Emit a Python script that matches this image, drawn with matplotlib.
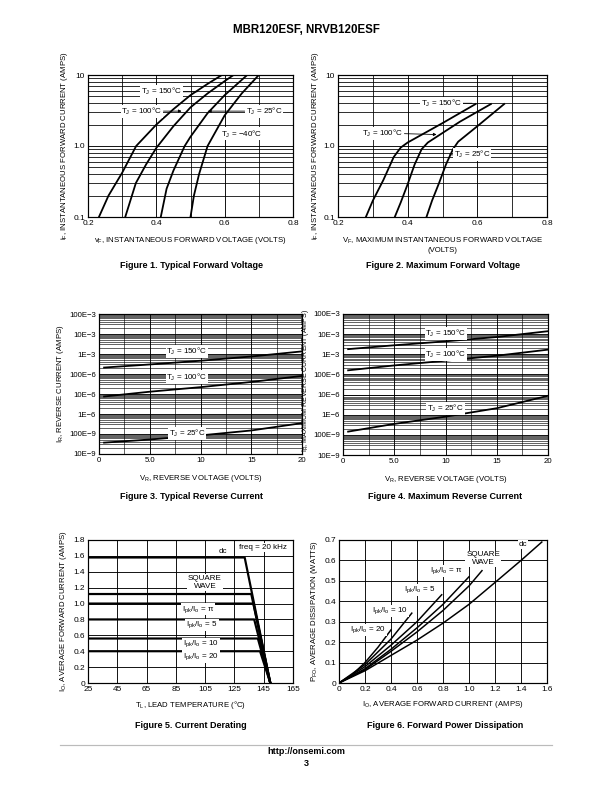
import matplotlib
matplotlib.use("Agg")
import matplotlib.pyplot as plt
from matplotlib.ticker import NullFormatter, LogLocator, FixedLocator
import numpy as np

plt.rcParams['font.family'] = ['Liberation Sans', 'DejaVu Sans']
plt.rcParams['mathtext.fontset'] = 'custom'
plt.rcParams['mathtext.rm'] = 'Liberation Sans'
plt.rcParams['mathtext.it'] = 'Liberation Sans:italic'

# ---------------- DATA ----------------
# Figure 1: typical forward voltage (V, A)
f1_150_v = [0.232, 0.26, 0.30, 0.341, 0.40, 0.45, 0.50, 0.55, 0.592]
f1_150_i = [0.1, 0.2, 0.42, 1.0, 2.0, 3.3, 5.2, 7.5, 10]
f1_100_v = [0.309, 0.34, 0.37, 0.40, 0.45, 0.50, 0.55, 0.60, 0.626]
f1_100_i = [0.1, 0.3, 0.55, 0.94, 1.9, 3.5, 5.5, 8.2, 10]
f1_25_v = [0.413, 0.43, 0.45, 0.483, 0.50, 0.55, 0.60, 0.666]
f1_25_i = [0.1, 0.25, 0.45, 1.0, 1.35, 2.9, 5.2, 10]
f1_m40_v = [0.50, 0.51, 0.525, 0.55, 0.60, 0.65, 0.70]
f1_m40_i = [0.1, 0.2, 0.4, 1.0, 2.7, 5.5, 10]
f1_xticks = [0.2, 0.4, 0.6, 0.8]
f1_xgrid = [0.3, 0.5, 0.7]

# Figure 2: maximum forward voltage
f2_150_v = [0.28, 0.30, 0.33, 0.36, 0.38, 0.40, 0.50, 0.595]
f2_150_i = [0.1, 0.17, 0.33, 0.7, 0.95, 1.12, 2.1, 3.9]
f2_100_v = [0.363, 0.38, 0.40, 0.42, 0.44, 0.458, 0.55, 0.639]
f2_100_i = [0.1, 0.16, 0.29, 0.55, 0.9, 1.12, 2.2, 3.9]
f2_25_v = [0.454, 0.47, 0.49, 0.51, 0.53, 0.545, 0.60, 0.677]
f2_25_i = [0.1, 0.17, 0.3, 0.55, 0.9, 1.15, 1.9, 3.9]

# Figure 3: typical reverse current (V, A)
vr = [0.5, 5, 10, 15, 20]
f3_150 = [2.1e-4, 3.0e-4, 4.6e-4, 7.5e-4, 1.35e-3]
f3_100 = [7.5e-6, 1.3e-5, 2.2e-5, 4.0e-5, 8.0e-5]
f3_25 = [3.7e-8, 5.3e-8, 8.5e-8, 1.5e-7, 3.5e-7]

# Figure 4: maximum reverse current
f4_150 = [1.8e-3, 2.8e-3, 4.4e-3, 7.2e-3, 1.4e-2]
f4_100 = [1.6e-4, 2.8e-4, 4.8e-4, 8.5e-4, 1.7e-3]
f4_25 = [1.45e-7, 3.5e-7, 8.0e-7, 2.1e-6, 8.7e-6]

rev_xticks = [0, 5, 10, 15, 20]
rev_xlabels = ['0', '5.0', '10', '15', '20']
rev_xgrid = [2.5, 7.5, 12.5, 17.5]
rev_ticks = [1e-8, 1e-7, 1e-6, 1e-5, 1e-4, 1e-3, 1e-2, 1e-1]
rev_labels = ['10E\u22129', '100E\u22129', '1E\u22126', '10E\u22126', '100E\u22126',
              '1E\u22123', '10E\u22123', '100E\u22123']

# Figure 5: current derating (T_L degC, I_O A)
f5_xticks = [25, 45, 65, 85, 105, 125, 145, 165]
f5_t = {
    'dc': [25, 132, 149.5],
    'sq': [25, 136.5, 149.5],
    'pi': [25, 138, 149.5],
    '5': [25, 138.5, 149.5],
    '10': [25, 141, 149.5],
    '20': [25, 142.5, 149.5],
}
f5_i = {
    'dc': [1.58, 1.58, 0],
    'sq': [1.12, 1.12, 0],
    'pi': [1.0, 1.0, 0],
    '5': [0.8, 0.8, 0],
    '10': [0.56, 0.56, 0],
    '20': [0.4, 0.4, 0],
}

# Figure 6: forward power dissipation (I_O A, P_FO W)
f6_dc_x = [0, 0.2, 0.4, 0.6, 0.8, 1.0, 1.2, 1.4, 1.56]
f6_dc_y = [0, 0.06, 0.135, 0.21, 0.293, 0.385, 0.492, 0.6, 0.69]
f6_sq_x = [0, 0.2, 0.4, 0.6, 0.8, 1.0, 1.1]
f6_sq_y = [0, 0.065, 0.155, 0.25, 0.355, 0.475, 0.55]
f6_pi_x = [0, 0.2, 0.4, 0.6, 0.8, 1.0]
f6_pi_y = [0, 0.07, 0.165, 0.27, 0.385, 0.52]
f6_5_x = [0, 0.2, 0.4, 0.6, 0.79]
f6_5_y = [0, 0.08, 0.185, 0.30, 0.432]
f6_10_x = [0, 0.2, 0.4, 0.56]
f6_10_y = [0, 0.09, 0.215, 0.342]
f6_20_x = [0, 0.1, 0.2, 0.3, 0.40]
f6_20_y = [0, 0.04, 0.1, 0.175, 0.26]

# ---------------- FIGURE ----------------
W, H = 612, 792
fig = plt.figure(figsize=(W / 72, H / 72), dpi=72)

TFS = 8.3   # tick labels
AFS = 7.7   # axis labels
LFS = 8.0   # in-plot labels


def mkax(l, r, t, b):
    return fig.add_axes([l / W, (H - b) / H, (r - l) / W, (b - t) / H])


def style(ax, minor_lw=0.8, tfs=TFS):
    for s in ax.spines.values():
        s.set_linewidth(1.2)
    ax.tick_params(which='both', length=0, labelsize=tfs, pad=3)
    ax.grid(which='major', color='black', lw=0.9, zorder=1)
    ax.grid(which='minor', color='black', lw=minor_lw, zorder=1)
    ax.set_axisbelow(True)


def lab(ax, x, y, s, **kw):
    ax.text(x, y, s, fontsize=LFS, ha='center', va='center', zorder=6,
            bbox=dict(facecolor='white', edgecolor='none', pad=1.0), **kw)


def leader(ax, s, xytext, xy, arrow=True):
    ax.annotate(s, xy=xy, xytext=xytext, fontsize=LFS, ha='center', va='center', zorder=6,
                bbox=dict(facecolor='white', edgecolor='none', pad=1.0),
                arrowprops=dict(arrowstyle='-|>' if arrow else '-', lw=0.8, color='black',
                                shrinkA=0, shrinkB=0, mutation_scale=6))


def ylab(ax, s, xpix_offset, fs=AFS, yc=0.5):
    ax.set_ylabel(s, fontsize=fs)
    w = ax.get_position().width * W
    ax.yaxis.set_label_coords(xpix_offset / w, yc)


LW = 1.8
TJ = 'T$_\\mathrm{J}$'


def fwd_axes(ax):
    ax.set_yscale('log')
    ax.set_xlim(0.2, 0.8)
    ax.set_ylim(0.1, 10)
    ax.set_xticks(f1_xticks)
    ax.set_xticklabels(['%.1f' % v for v in f1_xticks])
    ax.xaxis.set_minor_locator(FixedLocator(f1_xgrid))
    ax.set_yticks([0.1, 1, 10])
    ax.set_yticklabels(['0.1', '1.0', '10'])
    ax.yaxis.set_minor_locator(LogLocator(subs=np.arange(2, 10)))
    ax.yaxis.set_minor_formatter(NullFormatter())
    ax.xaxis.set_minor_formatter(NullFormatter())
    style(ax)


# ---- Figure 1 ----
ax1 = mkax(88, 293, 75, 217)
fwd_axes(ax1)
for v, i in [(f1_150_v, f1_150_i), (f1_100_v, f1_100_i), (f1_25_v, f1_25_i), (f1_m40_v, f1_m40_i)]:
    ax1.plot(v, i, color='black', lw=LW, zorder=4)
leader(ax1, TJ + ' = 150\u00b0C', (0.414, 5.8), (0.52, 5.8), arrow=False)
leader(ax1, TJ + ' = 100\u00b0C', (0.358, 3.1), (0.474, 3.1))
leader(ax1, TJ + ' = 25\u00b0C', (0.715, 3.1), (0.551, 3.1))
lab(ax1, 0.651, 1.48, TJ + ' = \u221240\u00b0C')
ax1.set_xlabel('v$_\\mathrm{F}$, INSTANTANEOUS FORWARD VOLTAGE (VOLTS)', fontsize=AFS)
ax1.xaxis.set_label_coords(0.5, -0.13)
ax1.xaxis.label.set_va('top')
ylab(ax1, 'i$_\\mathrm{F}$, INSTANTANEOUS FORWARD CURRENT (AMPS)', -18)

# ---- Figure 2 ----
ax2 = mkax(338, 547, 75, 217)
fwd_axes(ax2)
for v, i in [(f2_150_v, f2_150_i), (f2_100_v, f2_100_i), (f2_25_v, f2_25_i)]:
    ax2.plot(v, i, color='black', lw=LW, zorder=4)
leader(ax2, TJ + ' = 150\u00b0C', (0.496, 4.0), (0.585, 4.0), arrow=False)
leader(ax2, TJ + ' = 100\u00b0C', (0.329, 1.52), (0.483, 1.45))
leader(ax2, TJ + ' = 25\u00b0C', (0.585, 0.75), (0.52, 0.75), arrow=False)
ax2.set_xlabel('V$_\\mathrm{F}$, MAXIMUM INSTANTANEOUS FORWARD VOLTAGE\n(VOLTS)', fontsize=AFS,
               linespacing=1.3)
ax2.xaxis.set_label_coords(0.5, -0.13)
ax2.xaxis.label.set_va('top')
ylab(ax2, 'i$_\\mathrm{F}$, INSTANTANEOUS FORWARD CURRENT (AMPS)', -17)


# ---- Figure 3 & 4 ----
def rev_axes(ax):
    ax.set_yscale('log')
    ax.set_xlim(0, 20)
    ax.set_ylim(1e-8, 1e-1)
    ax.set_xticks(rev_xticks)
    ax.set_xticklabels(rev_xlabels)
    ax.xaxis.set_minor_locator(FixedLocator(rev_xgrid))
    ax.xaxis.set_minor_formatter(NullFormatter())
    ax.set_yticks(rev_ticks)
    ax.set_yticklabels(rev_labels)
    ax.yaxis.set_minor_locator(LogLocator(subs=np.arange(2, 10), numticks=20))
    ax.yaxis.set_minor_formatter(NullFormatter())
    style(ax, minor_lw=0.6, tfs=7.8)


ax3 = mkax(99, 302, 314, 454)
rev_axes(ax3)
for y in [f3_150, f3_100, f3_25]:
    ax3.plot(vr, y, color='black', lw=LW, zorder=4)
lab(ax3, 8.67, 1.4e-3, TJ + ' = 150\u00b0C')
lab(ax3, 8.67, 7.1e-5, TJ + ' = 100\u00b0C')
lab(ax3, 8.67, 1.1e-7, TJ + ' = 25\u00b0C')
ax3.set_xlabel('V$_\\mathrm{R}$, REVERSE VOLTAGE (VOLTS)', fontsize=AFS)
ax3.xaxis.set_label_coords(0.5, -0.135)
ax3.xaxis.label.set_va('top')
ylab(ax3, 'I$_\\mathrm{R}$, REVERSE CURRENT (AMPS)', -33)

ax4 = mkax(343, 548, 314, 455)
rev_axes(ax4)
for y in [f4_150, f4_100, f4_25]:
    ax4.plot(vr, y, color='black', lw=LW, zorder=4)
lab(ax4, 10.05, 1.1e-2, TJ + ' = 150\u00b0C')
lab(ax4, 10.05, 1.0e-3, TJ + ' = 100\u00b0C')
lab(ax4, 10.0, 2.1e-6, TJ + ' = 25\u00b0C')
ax4.set_xlabel('V$_\\mathrm{R}$, REVERSE VOLTAGE (VOLTS)', fontsize=AFS)
ax4.xaxis.set_label_coords(0.5, -0.135)
ax4.xaxis.label.set_va('top')
ylab(ax4, 'I$_\\mathrm{R}$, MAXIMUM REVERSE CURRENT (AMPS)', -32, fs=7.0, yc=0.53)

# ---- Figure 5 ----
ax5 = mkax(88, 293, 540, 683)
ax5.set_xlim(25, 165)
ax5.set_ylim(0, 1.8)
ax5.set_xticks(f5_xticks)
ax5.set_xticklabels([str(v) for v in f5_xticks])
yt5 = np.round(np.arange(0, 1.81, 0.2), 1)
ax5.set_yticks(yt5)
ax5.set_yticklabels(['0'] + ['%.1f' % v for v in yt5[1:]])
style(ax5)
for k in f5_t:
    ax5.plot(f5_t[k], f5_i[k], color='black', lw=2.2, zorder=4)
ipk = 'I$_\\mathrm{pk}$/I$_\\mathrm{o}$'
lab(ax5, 117.2, 1.66, 'dc')
lab(ax5, 144.5, 1.70, 'freq = 20 kHz')
lab(ax5, 104.9, 1.27, 'SQUARE\nWAVE')
lab(ax5, 100.1, 0.93, ipk + ' = \u03c0')
lab(ax5, 102.9, 0.73, ipk + ' = 5')
lab(ax5, 102.2, 0.49, ipk + ' = 10')
lab(ax5, 102.2, 0.33, ipk + ' = 20')
ax5.set_xlabel('T$_\\mathrm{L}$, LEAD TEMPERATURE (\u00b0C)', fontsize=AFS)
ax5.xaxis.set_label_coords(0.5, -0.115)
ax5.xaxis.label.set_va('top')
ylab(ax5, 'I$_\\mathrm{O}$, AVERAGE FORWARD CURRENT (AMPS)', -19)

# ---- Figure 6 ----
ax6 = mkax(339, 547, 540, 683)
ax6.set_xlim(0, 1.6)
ax6.set_ylim(0, 0.7)
xt6 = np.round(np.arange(0, 1.61, 0.2), 1)
ax6.set_xticks(xt6)
ax6.set_xticklabels(['0'] + ['%.1f' % v for v in xt6[1:]])
yt6 = np.round(np.arange(0, 0.71, 0.1), 1)
ax6.set_yticks(yt6)
ax6.set_yticklabels(['0'] + ['%.1f' % v for v in yt6[1:]])
style(ax6)
for x, y in [(f6_dc_x, f6_dc_y), (f6_sq_x, f6_sq_y), (f6_pi_x, f6_pi_y),
             (f6_5_x, f6_5_y), (f6_10_x, f6_10_y), (f6_20_x, f6_20_y)]:
    ax6.plot(x, y, color='black', lw=1.5, zorder=4)
lab(ax6, 1.415, 0.68, 'dc')
lab(ax6, 1.108, 0.607, 'SQUARE\nWAVE')
lab(ax6, 0.823, 0.548, ipk + ' = \u03c0')
lab(ax6, 0.623, 0.455, ipk + ' = 5')
lab(ax6, 0.392, 0.352, ipk + ' = 10')
lab(ax6, 0.223, 0.259, ipk + ' = 20')
ax6.set_xlabel('I$_\\mathrm{O}$, AVERAGE FORWARD CURRENT (AMPS)', fontsize=AFS)
ax6.xaxis.set_label_coords(0.5, -0.115)
ax6.xaxis.label.set_va('top')
ylab(ax6, 'P$_\\mathrm{FO}$, AVERAGE DISSIPATION (WATTS)', -19)


# ---- page text ----
def ft(x, y, s, **kw):
    fig.text(x / W, 1 - y / H, s, ha='center', va='center', **kw)


ft(306, 30, 'MBR120ESF, NRVB120ESF', fontsize=11.5, fontweight='bold')
CFS = 9
ft(191, 266, 'Figure 1. Typical Forward Voltage', fontsize=CFS, fontweight='bold')
ft(443, 266, 'Figure 2. Maximum Forward Voltage', fontsize=CFS, fontweight='bold')
ft(191, 497, 'Figure 3. Typical Reverse Current', fontsize=CFS, fontweight='bold')
ft(445, 497, 'Figure 4. Maximum Reverse Current', fontsize=CFS, fontweight='bold')
ft(191, 725, 'Figure 5. Current Derating', fontsize=CFS, fontweight='bold')
ft(445, 725, 'Figure 6. Forward Power Dissipation', fontsize=CFS, fontweight='bold')
fig.add_artist(plt.Line2D([60 / W, 552 / W], [1 - 745 / H, 1 - 745 / H], color='#bbbbbb', lw=1.2))
ft(306, 752, 'http://onsemi.com', fontsize=9, fontweight='bold')
ft(306, 763, '3', fontsize=9, fontweight='bold')

fig.savefig('out.png', dpi=72)
